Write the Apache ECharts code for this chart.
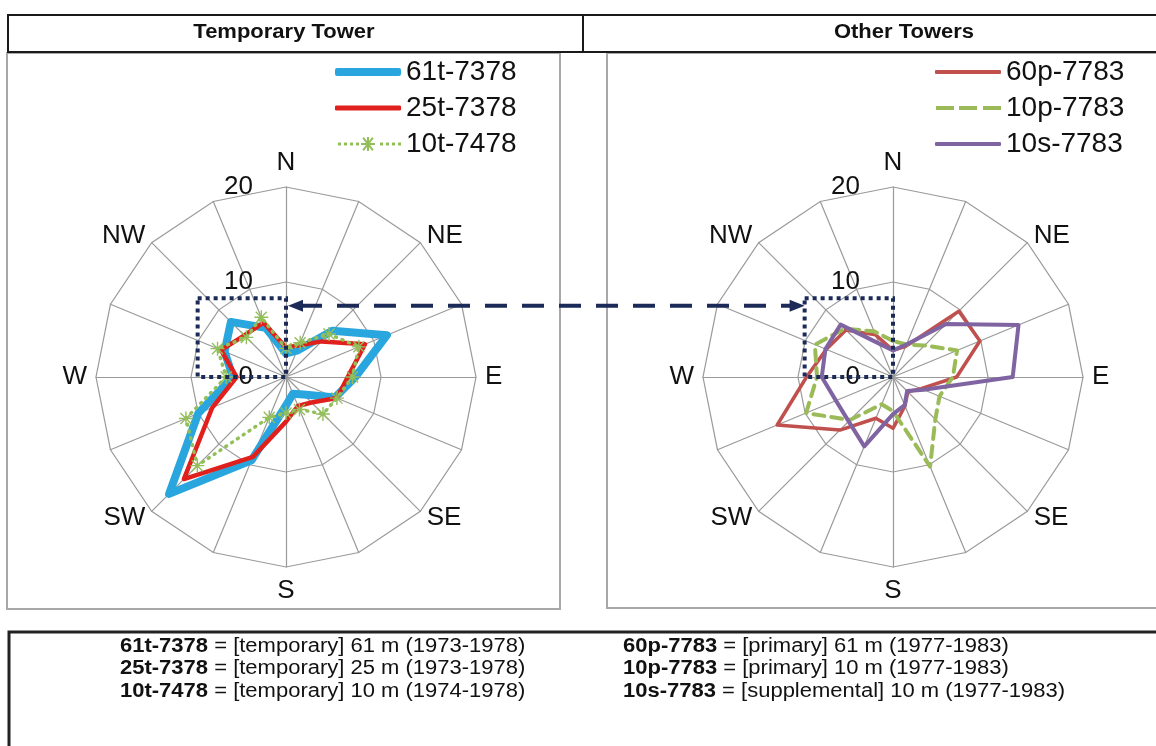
<!DOCTYPE html>
<html><head><meta charset="utf-8">
<script src="https://cdn.jsdelivr.net/npm/echarts@6/dist/echarts.min.js"></script>
<style>html,body{margin:0;padding:0;background:#fff}#c{width:1156px;height:746px}</style>
</head><body><div id="c"></div>
<script>
// ---------- data (compass order, clockwise from N) ----------
const directions = ['N','NNE','NE','ENE','E','ESE','SE','SSE','S','SSW','SW','WSW','W','WNW','NW','NNW'];
const shownDirections = ['N','NE','E','SE','S','SW','W','NW'];
const scaleTicks = [0, 10, 20];
const scaleMax = 20;

const panelTitles = ['Temporary Tower', 'Other Towers'];

const leftNames  = ['61t-7378', '25t-7378', '10t-7478'];
const rightNames = ['60p-7783', '10p-7783', '10s-7783'];

const t61_7378 = [2.5, 3.0, 6.9, 11.5, 7.3, 5.6, 2.6, 1.9, 3.0, 9.5, 17.4, 10.0, 5.6, 7.0, 8.2, 5.6];
const t25_7378 = [3.1, 3.6, 5.3, 9.0, 6.5, 5.8, 3.8, 3.3, 4.7, 9.1, 15.2, 8.4, 5.2, 7.4, 6.2, 6.2];
const t10_7478 = [3.0, 3.9, 6.4, 8.3, 7.0, 5.8, 5.5, 3.7, 3.8, 4.6, 13.2, 11.4, 6.3, 7.8, 5.9, 6.8];

const p60_7783 = [2.8, 3.5, 9.8, 9.9, 6.7, 3.2, 2.2, 3.3, 5.4, 4.7, 7.9, 13.2, 9.1, 7.6, 7.0, 4.8];
const p10_7783 = [3.8, 3.7, 4.7, 7.3, 6.3, 5.3, 6.3, 10.2, 3.6, 3.1, 6.4, 9.9, 8.0, 8.9, 7.2, 5.2];
const s10_7783 = [2.8, 3.7, 7.9, 14.3, 12.6, 3.5, 2.1, 3.2, 3.9, 7.9, 6.6, 6.5, 7.5, 7.7, 7.8, 3.8];

const notesLeft = [
  ['61t-7378', '[temporary] 61 m (1973-1978)'],
  ['25t-7378', '[temporary] 25 m (1973-1978)'],
  ['10t-7478', '[temporary] 10 m (1974-1978)']
];
const notesRight = [
  ['60p-7783', '[primary] 61 m (1977-1983)'],
  ['10p-7783', '[primary] 10 m (1977-1983)'],
  ['10s-7783', '[supplemental] 10 m (1977-1983)']
];

// ---------- layout / style ----------
const FONT = '"Liberation Sans", Arial, Helvetica, sans-serif';
const R = 190;
const centers = [[286, 377], [893, 377]];
const px = R / scaleMax;
const BOX_UNITS = [9.3, 8.3];
const ARROW_UNITS = 7.5;
const NAVY = '#1c2a58';

// radar axes run counter-clockwise from the top, so reorder compass data
function toRadar(arr) { return [arr[0]].concat(arr.slice(1).reverse()); }

const indicators = toRadar(directions).map(d => ({
  name: shownDirections.indexOf(d) >= 0 ? d : '',
  min: 0, max: scaleMax
}));

function radarCfg(c) {
  return {
    center: c, radius: R, startAngle: 90, shape: 'polygon', splitNumber: 2,
    indicator: indicators, nameGap: 9,
    axisName: {
      color: '#111', fontSize: 26, fontFamily: FONT, lineHeight: 2,
      formatter: n => (n === 'N' || n === 'S') ? '{ns|' + n + '}' : n,
      rich: { ns: { fontSize: 26, fontFamily: FONT, color: '#111', lineHeight: 30 } }
    },
    splitLine: { lineStyle: { color: '#9a9a9a', width: 1.2 } },
    splitArea: { show: false },
    axisLine: { lineStyle: { color: '#9a9a9a', width: 1.2 } },
    axisTick: { show: false },
    axisLabel: { show: false }
  };
}

const starPath = 'path://M9,0H11V20H9Z M0,9H20V11H0Z M1.4,2.8L2.8,1.4L18.6,17.2L17.2,18.6Z M17.2,1.4L18.6,2.8L2.8,18.6L1.4,17.2Z';
const dottedStarIcon = 'path://M0,5.5h3v3h-3Z M6,5.5h3v3h-3Z M12,5.5h3v3h-3Z M18,5.5h3v3h-3Z ' +
  'M29,0H31V14H29Z M23,6H37V8H23Z M24.4,1.4L25.8,0L35.6,12.6L34.2,14Z M34.2,0L35.6,1.4L25.8,14L24.4,12.6Z ' +
  'M42,5.5h3v3h-3Z M48,5.5h3v3h-3Z M54,5.5h3v3h-3Z M60,5.5h3v3h-3Z';
const dashedIcon = 'path://M0,0h18v4h-18Z M23,0h18v4h-18Z M47,0h18v4h-18Z';

const seriesDefs = [
  { radar: 0, name: leftNames[0], values: t61_7378, color: '#2aa6de', width: 8, type: 'solid', symbol: 'none', z: 2 },
  { radar: 0, name: leftNames[1], values: t25_7378, color: '#e0201c', width: 4.5, type: 'solid', symbol: 'none', z: 3 },
  { radar: 0, name: leftNames[2], values: t10_7478, color: '#93bf5a', width: 3.5, type: [1, 6], symbol: starPath, z: 4 },
  { radar: 1, name: rightNames[0], values: p60_7783, color: '#c0504d', width: 3.5, type: 'solid', symbol: 'none', z: 2 },
  { radar: 1, name: rightNames[1], values: p10_7783, color: '#9bbb59', width: 4, type: [11, 7], symbol: 'none', z: 3 },
  { radar: 1, name: rightNames[2], values: s10_7783, color: '#8064a2', width: 4, type: 'solid', symbol: 'none', z: 4 }
];

const series = seriesDefs.map(s => ({
  type: 'radar', radarIndex: s.radar, name: s.name, z: s.z, silent: true,
  symbol: s.symbol, symbolSize: 14,
  data: [{
    name: s.name, value: toRadar(s.values),
    lineStyle: { color: s.color, width: s.width, type: s.type, cap: 'round', join: 'round' },
    itemStyle: { color: s.color, borderWidth: 0 }
  }]
}));

const legendIcons = [
  { icon: 'roundRect', w: 66, h: 8 },
  { icon: 'roundRect', w: 66, h: 5 },
  { icon: dottedStarIcon, w: 63, h: 14 },
  { icon: 'roundRect', w: 66, h: 4 },
  { icon: dashedIcon, w: 65, h: 4 },
  { icon: 'roundRect', w: 66, h: 4 }
];
const legendLeft = [335, 935];
const legendRows = [72, 108, 144];
const legends = seriesDefs.map((s, i) => ({
  show: true, orient: 'vertical', padding: 0, selectedMode: false,
  left: legendLeft[s.radar] + (legendIcons[i].w < 66 ? 66 - legendIcons[i].w : 0),
  top: legendRows[i % 3] - 16,
  itemWidth: legendIcons[i].w, itemHeight: legendIcons[i].h,
  textStyle: { fontSize: 28, color: '#111', fontFamily: FONT, lineHeight: 32 },
  data: [{ name: s.name, icon: legendIcons[i].icon, itemStyle: { color: s.color, borderWidth: 0 } }]
}));

// scale tick labels on a vertical value axis along the N spoke
const grids = centers.map(c => ({ left: c[0], top: c[1] - R, width: 10, height: R, containLabel: false }));
const xAxes = centers.map((c, i) => ({ gridIndex: i, show: false, type: 'value' }));
const yAxes = centers.map((c, i) => ({
  gridIndex: i, type: 'value', min: scaleTicks[0], max: scaleTicks[scaleTicks.length - 1],
  interval: scaleTicks[1] - scaleTicks[0],
  axisLine: { show: false }, axisTick: { show: false }, splitLine: { show: false },
  axisLabel: { margin: 33, fontSize: 26, color: '#111', fontFamily: FONT }
}));

// ---------- frames, annotations, notes ----------
const graphic = [];
// header
graphic.push({ type: 'rect', shape: { x: 8, y: 15, width: 1160, height: 37 }, style: { fill: 'none', stroke: '#1a1a1a', lineWidth: 2 }, z: 1 });
graphic.push({ type: 'line', shape: { x1: 583, y1: 15, x2: 583, y2: 52 }, style: { stroke: '#1a1a1a', lineWidth: 2 }, z: 1 });
const titleX = [284, 904];
panelTitles.forEach((t, i) => graphic.push({
  type: 'text', x: titleX[i], y: 32, scaleX: 1.1, z: 5,
  style: { text: t, fill: '#111', font: 'bold 20px ' + FONT, align: 'center', verticalAlign: 'middle', textAlign: 'center', textVerticalAlign: 'middle' }
}));
// panels
graphic.push({ type: 'rect', shape: { x: 7, y: 53, width: 553, height: 556 }, style: { fill: 'none', stroke: '#a8a8a8', lineWidth: 2 }, z: 0 });
graphic.push({ type: 'rect', shape: { x: 607, y: 53, width: 560, height: 555 }, style: { fill: 'none', stroke: '#a8a8a8', lineWidth: 2 }, z: 0 });
// notes box
graphic.push({ type: 'rect', shape: { x: 9, y: 632, width: 1160, height: 130 }, style: { fill: 'none', stroke: '#222', lineWidth: 3 }, z: 1 });
const noteRows = [646, 668, 691];
[[notesLeft, 120], [notesRight, 623]].forEach(([notes, x]) => notes.forEach((n, r) => graphic.push({
  type: 'text', x: x, y: noteRows[r], scaleX: 1.1, z: 5,
  style: {
    text: '{b|' + n[0] + '} = ' + n[1], fill: '#111', font: '20px ' + FONT,
    align: 'left', verticalAlign: 'middle', textAlign: 'left', textVerticalAlign: 'middle',
    rich: { b: { fontWeight: 'bold', fontSize: 20, fontFamily: FONT, fill: '#111', color: '#111' } }
  }
})));
// dotted zoom boxes and arrow
centers.forEach(c => graphic.push({
  type: 'rect', z: 50,
  shape: { x: c[0] - BOX_UNITS[0] * px, y: c[1] - BOX_UNITS[1] * px, width: BOX_UNITS[0] * px, height: BOX_UNITS[1] * px },
  style: { fill: 'none', stroke: NAVY, lineWidth: 4, lineDash: [4, 4] }
}));
const ay = centers[0][1] - ARROW_UNITS * px;
const tipL = centers[0][0] + 2;
const tipR = centers[1][0] - BOX_UNITS[0] * px;
graphic.push({ type: 'line', z: 50, shape: { x1: tipL + 12, y1: ay, x2: tipR - 12, y2: ay }, style: { stroke: NAVY, lineWidth: 4, lineDash: [22, 15] } });
graphic.push({ type: 'polygon', z: 51, shape: { points: [[tipL, ay], [tipL + 15, ay - 6], [tipL + 15, ay + 6]] }, style: { fill: NAVY } });
graphic.push({ type: 'polygon', z: 51, shape: { points: [[tipR, ay], [tipR - 15, ay - 6], [tipR - 15, ay + 6]] }, style: { fill: NAVY } });

const chart = echarts.init(document.getElementById('c'), null, { renderer: 'canvas' });
chart.setOption({
  animation: false,
  backgroundColor: '#fff',
  textStyle: { fontFamily: FONT },
  radar: centers.map(radarCfg),
  grid: grids, xAxis: xAxes, yAxis: yAxes,
  legend: legends,
  series: series,
  graphic: graphic
});
</script></body></html>
